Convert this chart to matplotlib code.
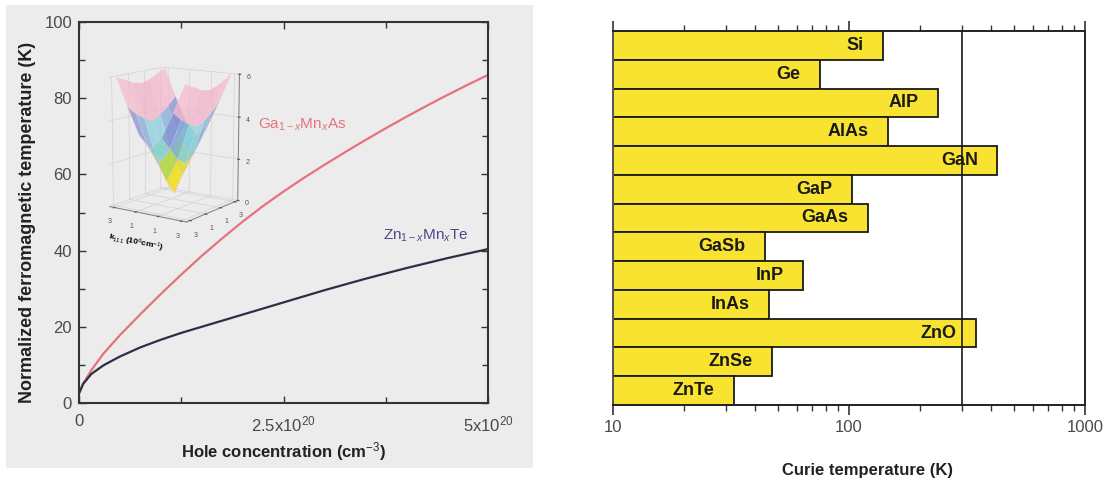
import numpy as np
import matplotlib
matplotlib.use("Agg")
import matplotlib.pyplot as plt
from matplotlib.patches import Rectangle
from matplotlib.colors import LinearSegmentedColormap
from matplotlib.ticker import FixedLocator, NullFormatter, LogLocator

plt.rcParams['font.family'] = ['Liberation Sans', 'DejaVu Sans']
plt.rcParams['mathtext.fontset'] = 'custom'
plt.rcParams['mathtext.rm'] = 'Liberation Sans'
plt.rcParams['mathtext.it'] = 'Liberation Sans:italic'
plt.rcParams['mathtext.bf'] = 'Liberation Sans:bold'

# ---------------- data: left panel ----------------
hole_conc = [0.0, 0.05, 0.15, 0.3, 0.5, 0.75, 1.0, 1.25, 1.5, 1.75, 2.0, 2.25, 2.5,
             2.75, 3.0, 3.25, 3.5, 3.75, 4.0, 4.25, 4.5, 4.75, 5.0]  # x 1e20 cm^-3
tc_gamnas = [2.5, 5.0, 8.6, 13.0, 17.8, 23.3, 28.6, 33.7, 38.6, 43.2, 47.6, 51.7, 55.5,
             59.1, 62.5, 65.8, 69.0, 72.1, 75.1, 78.0, 80.8, 83.5, 86.1]
tc_znmnte = [2.5, 5.0, 7.6, 9.9, 12.2, 14.6, 16.6, 18.4, 20.0, 21.6, 23.2, 24.8, 26.4,
             28.0, 29.6, 31.1, 32.6, 34.0, 35.4, 36.7, 38.0, 39.2, 40.4]
x_tick_vals = [0.0, 2.5, 5.0]
x_tick_labels = ['0', r'2.5x10$^{20}$', r'5x10$^{20}$']
y_tick_vals = [0, 20, 40, 60, 80, 100]

# inset surface (hand-read, rough)
k_grid = [-3, -2, -1, 0, 1, 2, 3]
energy_surface = [
    [6.0, 4.7, 3.5, 2.9, 3.5, 4.7, 6.0],
    [5.8, 4.3, 2.9, 2.1, 2.9, 4.3, 5.8],
    [5.6, 4.0, 2.3, 1.2, 2.3, 4.0, 5.6],
    [5.5, 3.8, 2.0, 0.5, 2.0, 3.8, 5.5],
    [5.6, 4.0, 2.3, 1.2, 2.3, 4.0, 5.6],
    [5.8, 4.3, 2.9, 2.1, 2.9, 4.3, 5.8],
    [6.0, 4.7, 3.5, 2.9, 3.5, 4.7, 6.0],
]

# ---------------- data: right panel ----------------
materials = ['Si', 'Ge', 'AlP', 'AlAs', 'GaN', 'GaP', 'GaAs', 'GaSb', 'InP', 'InAs', 'ZnO', 'ZnSe', 'ZnTe']
curie_temp = [140, 75, 238, 146, 425, 103, 120, 44, 64, 46, 345, 47, 32.5]
room_temp = 300
log_ticks = [10, 100, 1000]
log_tick_labels = ['10', '100', '1000']

# ---------------- figure ----------------
W, H = 1112, 483
fig = plt.figure(figsize=(W / 100, H / 100), dpi=100)

def fx(px):
    return px / W

def fy(py):
    return 1 - py / H

# gray background behind left panel
fig.patches.append(Rectangle((fx(6), fy(468)), fx(533) - fx(6), fy(5) - fy(468),
                             transform=fig.transFigure, facecolor='#ececec',
                             edgecolor='none', zorder=-10))

# ---- left axes ----
axL = fig.add_axes([fx(79), fy(403), fx(488) - fx(79), fy(22) - fy(403)])
axL.set_facecolor('#ececec')
axL.plot(hole_conc, tc_gamnas, color='#e6727e', lw=1.6)
axL.plot(hole_conc, tc_znmnte, color='#2e2e46', lw=1.6)
axL.set_xlim(0, 5)
axL.set_ylim(0, 100)
axL.set_xticks(x_tick_vals)
axL.set_xticklabels(x_tick_labels)
axL.set_yticks(y_tick_vals)
axL.xaxis.set_minor_locator(FixedLocator([1.25, 3.75]))
axL.yaxis.set_minor_locator(FixedLocator([10, 30, 50, 70, 90]))
axL.tick_params(which='both', direction='in', top=True, right=True, color='#333333', width=1.0)
axL.tick_params(which='major', length=5)
axL.tick_params(which='minor', length=4)
axL.tick_params(axis='y', labelsize=12, labelcolor='#4a4a4a', pad=5)
axL.tick_params(axis='x', labelsize=12, labelcolor='#4a4a4a', pad=8)
for s in axL.spines.values():
    s.set_color('#333333')
    s.set_linewidth(1.5)
axL.set_xlabel('Hole concentration (cm$^{-3}$)', fontsize=12, fontweight='bold', color='#222222')
axL.xaxis.set_label_coords(0.5, -(452 - 403) / 381)
axL.xaxis.label.set_va('center')
axL.set_ylabel('Normalized ferromagnetic temperature (K)', fontsize=13, fontweight='bold', color='#222222')
axL.yaxis.set_label_coords(-(79 - 28) / 409, (403 - 222) / 381)
axL.yaxis.label.set_va('center')
axL.text(2.19, 73, r'Ga$_{1-x}$Mn$_x$As', color='#e6727e', fontsize=11, va='center', ha='left')
axL.text(3.72, 44, r'Zn$_{1-x}$Mn$_x$Te', color='#4a4a88', fontsize=11, va='center', ha='left')

# ---- inset 3D ----
cmap = LinearSegmentedColormap.from_list('fs', ['#f2e020', '#8fd45a', '#7fd3e0', '#6a86d4', '#f0a8c4', '#f6b8cc'])
axI = fig.add_axes([fx(82), fy(252), fx(262) - fx(82), fy(34) - fy(252)], projection='3d')
axI.set_facecolor('none')
axI.set_box_aspect((1, 1, 1.4))
KX, KY = np.meshgrid(k_grid, k_grid)
Z = np.array(energy_surface)
axI.plot_surface(KX, KY, Z, cmap=cmap, alpha=0.7, edgecolor='#f2c8d4', linewidth=0.3,
                 rstride=1, cstride=1)
axI.view_init(elev=12, azim=-55)
axI.set_zlim(0, 6)
axI.set_zticks([0, 2, 4, 6])
axI.set_xticks([-3, -1, 1, 3])
axI.set_yticks([-3, -1, 1, 3])
axI.set_xticklabels(['3', '1', '1', '3'])
axI.set_yticklabels(['3', '1', '1', '3'])
for a in (axI.xaxis, axI.yaxis, axI.zaxis):
    a.set_pane_color((1, 1, 1, 0))
    a._axinfo['grid']['color'] = '#cccccc'
    a._axinfo['grid']['linewidth'] = 0.4
    a.line.set_color('#888888')
axI.tick_params(labelsize=5, pad=-3, colors='#555555')
axI.set_xlabel(r'$\mathbf{k}_{111}$ (10$^6$cm$^{-1}$)', fontsize=6, fontweight='bold', labelpad=-8)

# ---- right axes ----
axR = fig.add_axes([fx(613), fy(405), fx(1085) - fx(613), fy(31) - fy(405)])
ypos = np.arange(len(materials))[::-1]
base = 10
axR.barh(ypos, np.array(curie_temp) - base, left=base, height=1.0,
         color='#f8e330', edgecolor='#1a1a1a', linewidth=1.3, zorder=2)
axR.set_xscale('log')
axR.set_xlim(10, 1000)
axR.set_ylim(-0.5, len(materials) - 0.5)
axR.axvline(room_temp, color='#1a1a1a', lw=1.2, zorder=3)
for y, name, v in zip(ypos, materials, curie_temp):
    axR.annotate(name, (v, y), xytext=(-14, 0), textcoords='offset points',
                 ha='right', va='center', fontsize=13, fontweight='bold', color='#1a1a1a', zorder=4)
axR.set_yticks([])
axR.set_xticks(log_ticks)
axR.set_xticklabels(log_tick_labels)
axR.xaxis.set_minor_locator(LogLocator(base=10, subs=np.arange(2, 10)))
axR.xaxis.set_minor_formatter(NullFormatter())
axR.tick_params(axis='x', which='both', direction='out', top=True, bottom=True, color='#333333')
axR.tick_params(axis='x', which='major', length=7, width=1.2, labelsize=12, labelcolor='#4a4a4a', pad=4)
axR.tick_params(axis='x', which='minor', length=4, width=1.0)
for s in axR.spines.values():
    s.set_color('#222222')
    s.set_linewidth(1.4)
axR.spines['left'].set_color('#555555')
axR.set_xlabel('Curie temperature (K)', fontsize=12, fontweight='bold', color='#222222')
axR.xaxis.set_label_coords((867 - 613) / 472, -(470 - 405) / 374)
axR.xaxis.label.set_va('center')

fig.savefig('out.png', dpi=100)
